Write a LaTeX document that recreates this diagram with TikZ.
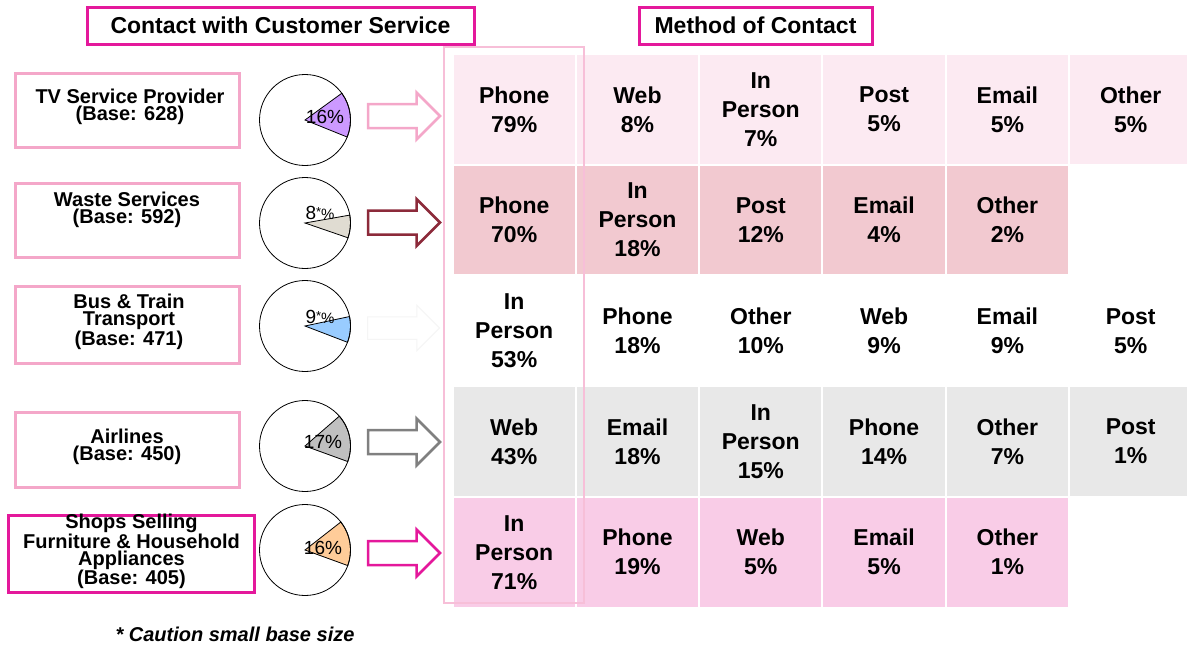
\documentclass[tikz,border=0pt]{standalone}
\usepackage{fontspec}
\setmainfont{Liberation Sans}
\usetikzlibrary{shapes.arrows}
\definecolor{mag}{HTML}{E4189B}
\definecolor{lpink}{HTML}{F4A7C9}
\definecolor{framepink}{HTML}{F7BFD8}
\definecolor{maroon}{HTML}{8C2A3A}
\definecolor{rowA}{HTML}{FCEAF2}
\definecolor{rowB}{HTML}{F2C9D0}
\definecolor{rowD}{HTML}{E8E8E8}
\definecolor{rowE}{HTML}{F9CCE7}
\definecolor{pieA}{HTML}{CC99FF}
\definecolor{pieB}{HTML}{E0DCD2}
\definecolor{pieC}{HTML}{99CCFF}
\definecolor{pieD}{HTML}{C0C0C0}
\definecolor{pieE}{HTML}{FFCC99}
\newcommand\mypie[5]{%
  \coordinate (#1) at (305,#2);
  \fill[white] (#1) circle[radius=45.5pt];
  \filldraw[fill=#5, draw=black, line width=0.8pt] (#1) -- ++(#3:45.5pt) arc[start angle=#3, end angle=#4, radius=45.5pt] -- cycle;
  \draw[line width=0.8pt] (#1) circle[radius=45.5pt];
}
\tikzset{
  cellbox/.style={minimum width=121.3pt, minimum height=108.7pt, inner sep=0pt, align=center,
    font=\fontsize{23}{29}\selectfont\bfseries},
  rA/.style={cellbox, fill=rowA},
  rB/.style={cellbox, fill=rowB},
  rC/.style={cellbox},
  rD/.style={cellbox, fill=rowD},
  rE/.style={cellbox, fill=rowE},
  titlebox/.style={draw=mag, line width=3pt, minimum height=37pt, inner sep=0pt,
    font=\fontsize{23}{27}\selectfont\bfseries},
  catbox/.style={draw=lpink, line width=3pt, minimum width=224pt, inner sep=0pt},
  cattext/.style={align=center, inner sep=0pt, font=\fontsize{20}{17}\selectfont\bfseries},
  pielabel/.style={inner sep=0pt, font=\fontsize{19}{19}\selectfont},
  blockarrow/.style={single arrow, fill=white, line width=2.5pt, inner xsep=0pt, inner ysep=10.75pt,
    single arrow head extend=11.5pt, minimum height=72pt}
}
\begin{document}
\begin{tikzpicture}[x=1pt,y=-1pt]
\useasboundingbox (0,0) rectangle (1187,645);

% titles
\node[titlebox, minimum width=387pt] (title1) at (280.5,25.5) {Contact with Customer Service};
\node[titlebox, minimum width=233pt] (title2) at (755.5,25.5) {Method of Contact};

% category boxes
\node[catbox, minimum height=74pt] (b1) at (127,110) {};
\node[cattext] (l1) at (130,106.5) {TV Service Provider\\(Base: 628)};
\node[catbox, minimum height=74pt] (b2) at (127,220) {};
\node[cattext] (l2) at (127,209.5) {Waste Services\\(Base: 592)};
\node[catbox, minimum height=77pt] (b3) at (127,324.5) {};
\node[cattext] (l3) at (129,322) {Bus \& Train\\Transport\\(Base: 471)};
\node[catbox, minimum height=75pt] (b4) at (127,449.5) {};
\node[cattext] (l4) at (127,446.5) {Airlines\\(Base: 450)};
\node[catbox, draw=mag, minimum width=246pt, minimum height=77pt] (b5) at (131,553.5) {};
\node[cattext] (l5) at (131.5,551.5) {Shops Selling\\Furniture \& Household\\Appliances\\(Base: 405)};

% pies
\mypie{p1}{120}{-22}{36}{pieA}
\node[pielabel] (q1) at (325,117) {16\%};
\mypie{p2}{223}{-19}{10}{pieB}
\node[pielabel] (q2) at (320,213) {8\raisebox{3pt}{\fontsize{13}{13}\selectfont *}{\fontsize{15}{15}\selectfont\%}};
\mypie{p3}{326}{-21}{12}{pieC}
\node[pielabel] (q3) at (320,317) {9\raisebox{3pt}{\fontsize{13}{13}\selectfont *}{\fontsize{15}{15}\selectfont\%}};
\mypie{p4}{446}{-20}{41}{pieD}
\node[pielabel] (q4) at (323,442) {17\%};
\mypie{p5}{550}{-20}{38}{pieE}
\node[pielabel] (q5) at (323,548) {16\%};

% block arrows
\node[blockarrow, draw=lpink] (a1) at (398,116) {};
\node[blockarrow, draw=maroon] (a2) at (398,222.5) {};
\node[blockarrow, draw=black!4, line width=1pt] (a3) at (398,328) {};
\node[blockarrow, draw=gray] (a4) at (398,442) {};
\node[blockarrow, draw=mag] (a5) at (398,553) {};

% table row 1
\node[rA] (c11) at (514.2,109.4) {Phone\\79\%};
\node[rA] (c12) at (637.5,109.4) {Web\\8\%};
\node[rA] (c13) at (760.8,109.4) {In\\Person\\7\%};
\node[rA] (c14) at (884.1,109.4) {Post\\5\%};
\node[rA] (c15) at (1007.4,109.4) {Email\\5\%};
\node[rA] (c16) at (1130.7,109.4) {Other\\5\%};
% row 2
\node[rB] (c21) at (514.2,220) {Phone\\70\%};
\node[rB] (c22) at (637.5,220) {In\\Person\\18\%};
\node[rB] (c23) at (760.8,220) {Post\\12\%};
\node[rB] (c24) at (884.1,220) {Email\\4\%};
\node[rB] (c25) at (1007.4,220) {Other\\2\%};
% row 3
\node[rC] (c31) at (514.2,330.8) {In\\Person\\53\%};
\node[rC] (c32) at (637.5,330.8) {Phone\\18\%};
\node[rC] (c33) at (760.8,330.8) {Other\\10\%};
\node[rC] (c34) at (884.1,330.8) {Web\\9\%};
\node[rC] (c35) at (1007.4,330.8) {Email\\9\%};
\node[rC] (c36) at (1130.7,330.8) {Post\\5\%};
% row 4
\node[rD] (c41) at (514.2,441.5) {Web\\43\%};
\node[rD] (c42) at (637.5,441.5) {Email\\18\%};
\node[rD] (c43) at (760.8,441.5) {In\\Person\\15\%};
\node[rD] (c44) at (884.1,441.5) {Phone\\14\%};
\node[rD] (c45) at (1007.4,441.5) {Other\\7\%};
\node[rD] (c46) at (1130.7,441.5) {Post\\1\%};
% row 5
\node[rE] (c51) at (514.2,552.2) {In\\Person\\71\%};
\node[rE] (c52) at (637.5,552.2) {Phone\\19\%};
\node[rE] (c53) at (760.8,552.2) {Web\\5\%};
\node[rE] (c54) at (884.1,552.2) {Email\\5\%};
\node[rE] (c55) at (1007.4,552.2) {Other\\1\%};

% frame over first column
\draw[draw=framepink, line width=1.8pt] (444,47) rectangle (584,603);

% footnote
\node[font=\fontsize{20}{20}\selectfont\bfseries\itshape] (note) at (235,634) {* Caution small base size};
\end{tikzpicture}
\end{document}
